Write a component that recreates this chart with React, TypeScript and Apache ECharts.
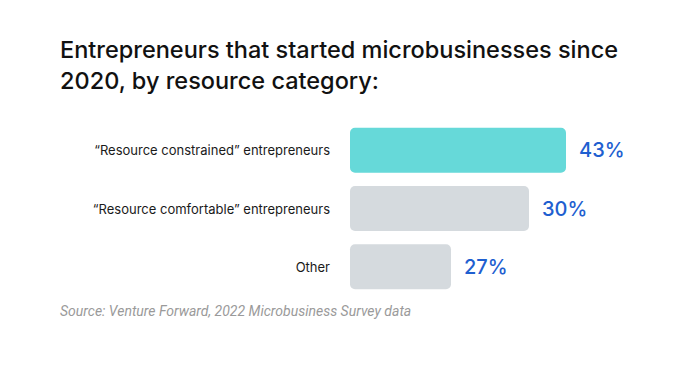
import React, { useEffect, useRef } from "react";
import * as echarts from "echarts";

const categories = [
  "“Resource constrained” entrepreneurs",
  "“Resource comfortable” entrepreneurs",
  "Other",
];
// Displayed percentages
const percentages = [43, 30, 27];
// Drawn bar lengths (the bars are not proportional to the labels)
const barLengths = [216, 179, 101];
const barColors = ["#66d9d9", "#d5dade", "#d5dade"];

const titleText = "Entrepreneurs that started microbusinesses since\n2020, by resource category:";
const sourceText = "Source: Venture Forward, 2022 Microbusiness Survey data";

export default function App() {
  const ref = useRef<HTMLDivElement>(null);
  useEffect(() => {
    if (!ref.current) return;
    const chart = echarts.init(ref.current, null, { renderer: "svg" });
    chart.setOption({
      animation: false,
      backgroundColor: "#ffffff",
      title: {
        text: titleText,
        left: 52,
        top: 26,
        padding: 0,
        textStyle: {
          fontFamily: "Inter",
          fontSize: 23.5,
          fontWeight: 500,
          color: "#111111",
          lineHeight: 31,
        },
      },
      graphic: [
        {
          type: "text",
          left: 52,
          top: 296,
          style: {
            text: sourceText,
            fontFamily: "Roboto",
            fontStyle: "italic",
            fontSize: 14,
            fill: "#9a9a9a",
          },
        },
      ],
      grid: { left: 342, right: 126, top: 113, bottom: 65, containLabel: false },
      xAxis: {
        type: "value",
        min: 0,
        max: 216,
        show: false,
      },
      yAxis: {
        type: "category",
        inverse: true,
        data: categories,
        axisLine: { show: false },
        axisTick: { show: false },
        axisLabel: {
          margin: 20,
          fontFamily: "Inter",
          fontSize: 13,
          color: "#1a1a1a",
        },
      },
      series: [
        {
          type: "bar",
          barWidth: 45,
          data: barLengths.map((v, i) => ({
            value: v,
            itemStyle: { color: barColors[i], borderRadius: 5 },
          })),
          label: {
            show: true,
            position: "right",
            distance: 13,
            fontFamily: "Inter",
            fontSize: 20,
            fontWeight: 500,
            color: "#1f5fd0",
            formatter: (p: any) => percentages[p.dataIndex] + "%",
          },
        },
      ],
    });
    return () => chart.dispose();
  }, []);
  return <div ref={ref} style={{ width: 684, height: 353 }} />;
}
